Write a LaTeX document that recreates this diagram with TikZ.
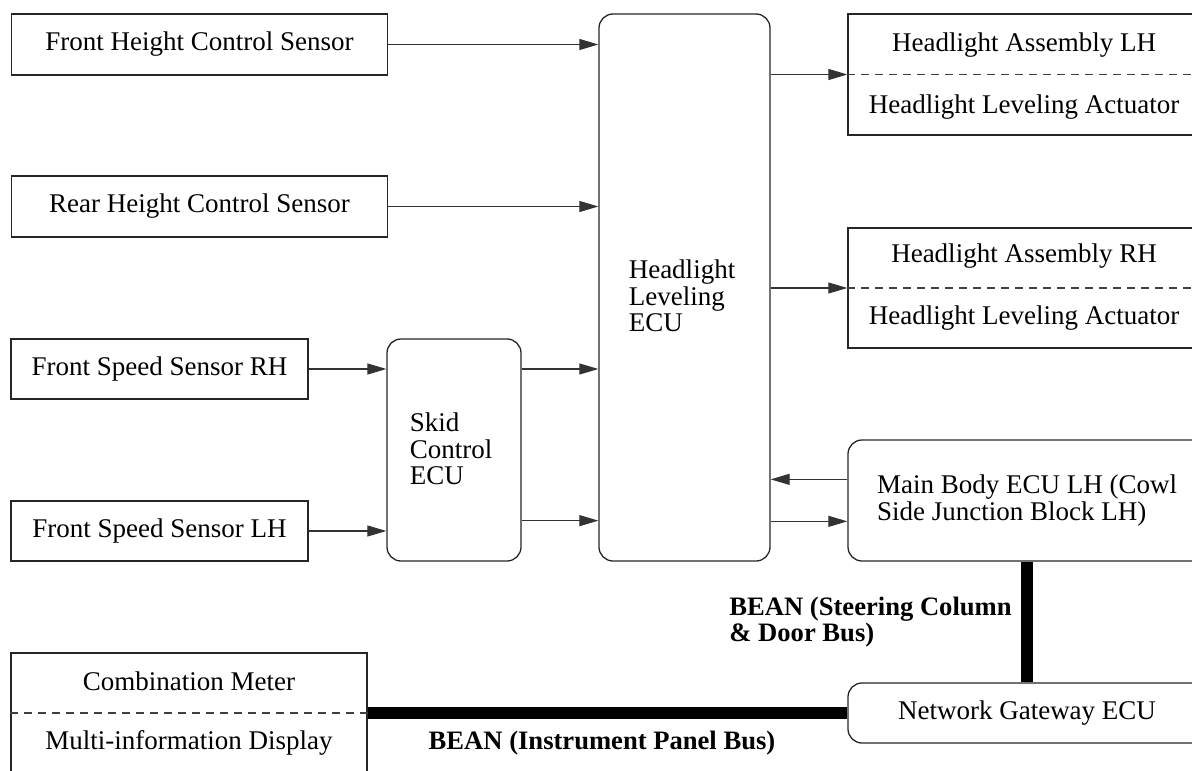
\documentclass[tikz,border=0pt]{standalone}
\usepackage{fontspec}
\setmainfont{Liberation Serif}
\usetikzlibrary{arrows.meta,calc}
\begin{document}
\begin{tikzpicture}[x=0.5pt,y=-0.5pt,
  every node/.style={font=\fontsize{13.5}{13.3}\selectfont},
  sq/.style={draw=black!85,line width=0.65pt,inner sep=0pt,align=center},
  rnd/.style={sq,rounded corners=7pt},
  txt/.style={inner sep=0pt,align=left},
  conn/.style={draw=black!80,line width=0.55pt,-{Triangle[length=9.5pt,width=5.5pt]}},
  bus/.style={line width=6pt,black},
  buslabel/.style={txt,font=\fontsize{13.3}{13.3}\selectfont\bfseries},
  sep/.style={dashed,draw=black!75,line width=0.55pt,dash pattern=on 4pt off 3pt}
]
\path[use as bounding box,clip] (0,0) rectangle (1192,770);

% left sensors
\node[sq,minimum width=188pt,minimum height=30.5pt] (fh) at (199.5,44.5) {Front Height Control Sensor};
\node[sq,minimum width=188pt,minimum height=30.5pt] (rhc) at (199.5,206.5) {Rear Height Control Sensor};
\node[sq,minimum width=148.5pt,minimum height=30pt] (fsr) at (159.5,369) {Front Speed Sensor RH};
\node[sq,minimum width=148.5pt,minimum height=30pt] (fsl) at (159.5,531) {Front Speed Sensor LH};

% skid control ECU
\node[rnd,minimum width=67pt,minimum height=111pt] (skid) at (454,450) {};
\node[txt] (skidt) at (451,449) {Skid\\Control\\ECU};

% headlight leveling ECU
\node[rnd,minimum width=85.5pt,minimum height=273.5pt] (ecu) at (684.5,287.5) {};
\node[txt] (ecut) at (682,296) {Headlight\\Leveling\\ECU};

% headlight assemblies
\node[sq,minimum width=177pt,minimum height=60.5pt] (hlL) at (1025,74.5) {};
\node[txt] (hlLa) at (1024,45) {Headlight Assembly LH};
\node[txt] (hlLb) at (1024,107) {Headlight Leveling Actuator};
\draw[sep] (hlL.west) -- (hlL.east);

\node[sq,minimum width=177pt,minimum height=60pt] (hlR) at (1025,288) {};
\node[txt] (hlRa) at (1024,256) {Headlight Assembly RH};
\node[txt] (hlRb) at (1024,318) {Headlight Leveling Actuator};
\draw[sep] (hlR.west) -- (hlR.east);

% main body ECU and gateway
\node[rnd,align=left,minimum width=179pt,minimum height=60.5pt] (mb) at (1027,500.5) {Main Body ECU LH (Cowl\\Side Junction Block LH)};
\node[rnd,minimum width=179pt,minimum height=30pt] (ng) at (1027,713) {Network Gateway ECU};

% combination meter
\node[sq,minimum width=178pt,minimum height=60pt] (cm) at (189,713) {};
\node[txt] (cma) at (189,681) {Combination Meter};
\node[txt] (cmb) at (189,743) {Multi-information Display};
\draw[sep] (cm.west) -- (cm.east);

% connectors
\draw[conn] (fh.east) -- (fh.east -| ecu.west);
\draw[conn] (rhc.east) -- (rhc.east -| ecu.west);
\draw[conn] (fsr.east) -- (fsr.east -| skid.west);
\draw[conn] (fsl.east) -- (fsl.east -| skid.west);
\draw[conn] (skid.east |- fsr.east) -- (ecu.west |- fsr.east);
\coordinate (s2) at ($(skid.south east)+(0,-41)$);
\draw[conn] (s2) -- (s2 -| ecu.west);
\draw[conn] (ecu.east |- hlL.west) -- (hlL.west);
\draw[conn] (ecu.east |- hlR.west) -- (hlR.west);
\coordinate (m1) at ($(mb.north west)+(0,40)$);
\coordinate (m2) at ($(mb.north west)+(0,82)$);
\draw[conn] (m1) -- (m1 -| ecu.east);
\draw[conn] (m2 -| ecu.east) -- (m2);

% buses
\draw[bus] (mb.south) -- (ng.north);
\draw[bus] (cm.east) -- (ng.west);
\node[buslabel,anchor=west] (bsc) at (729,622) {BEAN (Steering Column\\\& Door Bus)};
\node[buslabel] (bip) at (602,743) {BEAN (Instrument Panel Bus)};
\end{tikzpicture}
\end{document}
